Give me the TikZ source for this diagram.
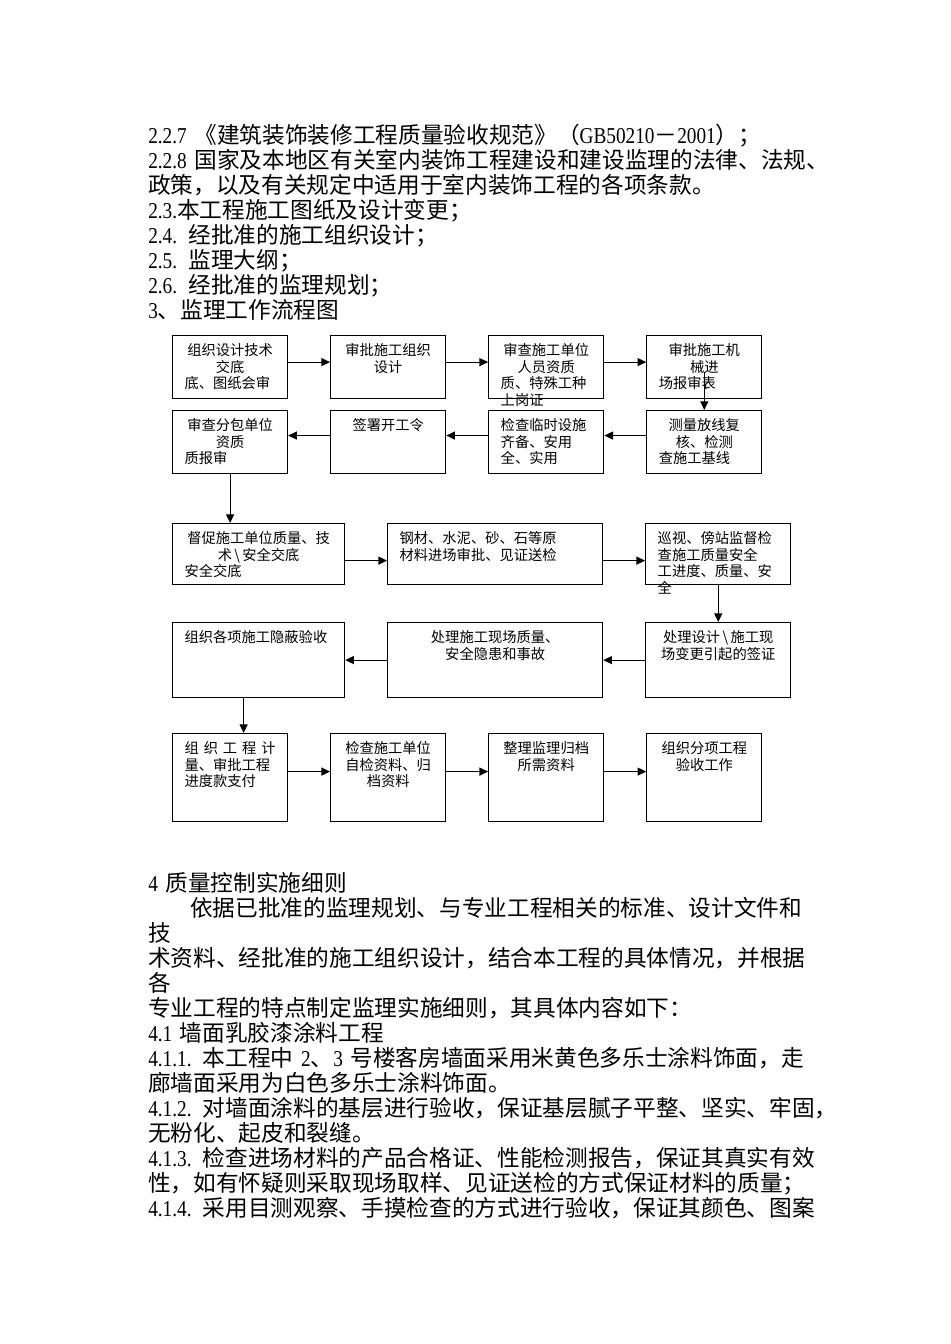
\documentclass[tikz,border=0pt]{standalone}
\usepackage{fontspec}
\setmainfont[FakeStretch=0.85]{Liberation Serif}
\newfontfamily\cjk{Noto Sans CJK SC}
\usepackage{tikz}
\usetikzlibrary{positioning,arrows.meta,calc}
\tikzstyle{box} = [rectangle, draw, line width=0.9pt, inner xsep=9pt, inner ysep=0pt, %
   text height=15pt, align=center, font=\fontsize{10.7pt}{12.4pt}\cjk]
\tikzstyle{boxS} = [box, text width=68.25pt]
\tikzstyle{boxI} = [box, text width=111pt]
\tikzstyle{boxJ} = [box, text width=143.25pt]
\tikzstyle{boxK} = [box, text width=90.75pt]
\tikzstyle{para} = [anchor=base west, inner sep=0pt, text width=600pt, align=left, %
   font=\fontsize{17pt}{18.75pt}\cjk]
\tikzstyle{line} = [draw, line width=0.9pt, -{Triangle[length=6.5pt,width=6pt]}]
\newcommand{\lat}[1]{{\rmfamily #1}}
\newcommand{\lft}[1]{#1\hfill\null}

\begin{document}
\begin{tikzpicture}[x=0.75pt, y=-0.75pt, node distance=31.4pt]
   \useasboundingbox (0,0) rectangle (950,1344);

% Text above the chart %%%%%%%%%%%%%%%%%%%%%%%%%%%%%%%%%%%%%%%%%%%%%%%%
   \node[para](head) at (148,143.6){%
      \lat{2.2.7 }《建筑装饰装修工程质量验收规范》（\lat{GB50210}－\lat{2001}）；\\
      \lat{2.2.8 }国家及本地区有关室内装饰工程建设和建设监理的法律、法规、\\
      政策，以及有关规定中适用于室内装饰工程的各项条款。\\
      \lat{2.3.}本工程施工图纸及设计变更；\\
      \lat{2.4. }经批准的施工组织设计；\\
      \lat{2.5. }监理大纲；\\
      \lat{2.6. }经批准的监理规划；\\
      \lat{3}、监理工作流程图};

% Row 1 %%%%%%%%%%%%%%%%%%%%%%%%%%%%%%%%%%%%%%%%%%%%%%%%%%%%%%%%%%%%%%%
   \node[boxS, text depth=32.25pt, anchor=north west](techbrief) at (172,335){%
      组织设计技术\\交底\\\lft{底、图纸会审}};
   \node[boxS, text depth=32.25pt, right=of techbrief](approveplan){%
      审批施工组织\\设计};
   \node[boxS, text depth=32.25pt, right=of approveplan](checkstaff){%
      审查施工单位\\人员资质\\\lft{质、特殊工种}\\\lft{上岗证}};
   \node[boxS, text depth=32.25pt, right=of checkstaff](approvemach){%
      审批施工机\\械进\\\lft{场报审表}};

% Row 2 %%%%%%%%%%%%%%%%%%%%%%%%%%%%%%%%%%%%%%%%%%%%%%%%%%%%%%%%%%%%%%%
   \node[boxS, text depth=32.25pt, below=8.1pt of techbrief](checksub){%
      审查分包单位\\资质\\\lft{质报审}};
   \node[boxS, text depth=32.25pt, below=8.1pt of approveplan](startorder){%
      签署开工令};
   \node[boxS, text depth=32.25pt, below=8.1pt of checkstaff, align=left](checkfacil){%
      检查临时设施\\齐备、安用\\全、实用};
   \node[boxS, text depth=32.25pt, below=8.1pt of approvemach](survey){%
      测量放线复\\核、检测\\\lft{查施工基线}};

% Row 3 %%%%%%%%%%%%%%%%%%%%%%%%%%%%%%%%%%%%%%%%%%%%%%%%%%%%%%%%%%%%%%%
   \node[boxI, text depth=30.75pt, below=36.6pt of checksub.south west, anchor=north west](urge){%
      督促施工单位质量、技\\术\,\textbackslash\,安全交底\\\lft{安全交底}};
   \node[boxJ, text depth=30.75pt, right=of urge, align=left](material){%
      钢材、水泥、砂、石等原\\材料进场审批、见证送检};
   \node[boxK, text depth=30.75pt, right=of material, align=left](patrol){%
      巡视、傍站监督检\\查施工质量安全\\工进度、质量、安\\全};

% Row 4 %%%%%%%%%%%%%%%%%%%%%%%%%%%%%%%%%%%%%%%%%%%%%%%%%%%%%%%%%%%%%%%
   \node[boxK, text depth=41.25pt, below=27.6pt of patrol](change){%
      处理设计\,\textbackslash\,施工现\\场变更引起的签证};
   \node[boxJ, text depth=41.25pt, left=of change](hazard){%
      处理施工现场质量、\\安全隐患和事故};
   \node[boxI, text depth=41.25pt, left=of hazard, align=left](concealed){%
      组织各项施工隐蔽验收};

% Row 5 %%%%%%%%%%%%%%%%%%%%%%%%%%%%%%%%%%%%%%%%%%%%%%%%%%%%%%%%%%%%%%%
   \node[boxS, text depth=51pt, below=26.1pt of concealed.south west, anchor=north west](measure){%
      组\hfill 织\hfill 工\hfill 程\hfill 计\\\lft{量、审批工程}\\\lft{进度款支付}};
   \node[boxS, text depth=51pt, right=of measure](selfcheck){%
      检查施工单位\\自检资料、归\\档资料};
   \node[boxS, text depth=51pt, right=of selfcheck](archive){%
      整理监理归档\\所需资料};
   \node[boxS, text depth=51pt, right=of archive](accept){%
      组织分项工程\\验收工作};

% Text below the chart %%%%%%%%%%%%%%%%%%%%%%%%%%%%%%%%%%%%%%%%%%%%%%%%
   \node[para](body) at (148,891.6){%
      \lat{4 }质量控制实施细则\\
      \hspace*{31.5pt}依据已批准的监理规划、与专业工程相关的标准、设计文件和\\
      技\\
      术资料、经批准的施工组织设计，结合本工程的具体情况，并根据\\
      各\\
      专业工程的特点制定监理实施细则，其具体内容如下：\\
      \lat{4.1 }墙面乳胶漆涂料工程\\
      \lat{4.1.1. }本工程中\lat{ 2}、\lat{3 }号楼客房墙面采用米黄色多乐士涂料饰面，走\\
      廊墙面采用为白色多乐士涂料饰面。\\
      \lat{4.1.2. }对墙面涂料的基层进行验收，保证基层腻子平整、坚实、牢固，\\
      无粉化、起皮和裂缝。\\
      \lat{4.1.3. }检查进场材料的产品合格证、性能检测报告，保证其真实有效\\
      性，如有怀疑则采取现场取样、见证送检的方式保证材料的质量；\\
      \lat{4.1.4. }采用目测观察、手摸检查的方式进行验收，保证其颜色、图案};

   % Draw edges
   % Row 1
   \path [line] ([yshift=3.75pt]techbrief.east) -- ([yshift=3.75pt]approveplan.west);
   \path [line] ([yshift=3.75pt]approveplan.east) -- ([yshift=3.75pt]checkstaff.west);
   \path [line] ([yshift=3.75pt]checkstaff.east) -- ([yshift=3.75pt]approvemach.west);
   \path [line] ([yshift=-4pt]approvemach.center) -- (survey.north);

   % Row 2
   \path [line] ([yshift=4.9pt]survey.west) -- ([yshift=4.9pt]checkfacil.east);
   \path [line] ([yshift=4.9pt]checkfacil.west) -- ([yshift=4.9pt]startorder.east);
   \path [line] ([yshift=4.9pt]startorder.west) -- ([yshift=4.9pt]checksub.east);
   \path [line] (checksub.south) -- (checksub.south |- urge.north);

   % Row 3
   \path [line] ([yshift=-4.9pt]urge.east) -- ([yshift=-4.9pt]material.west);
   \path [line] ([yshift=-4.9pt]material.east) -- ([yshift=-4.9pt]patrol.west);
   \path [line] (patrol.south) -- (change.north);

   % Row 4
   \path [line] (change.west) -- (hazard.east);
   \path [line] (hazard.west) -- (concealed.east);
   \coordinate (downturn) at ([xshift=-11.25pt]concealed.south);
   \path [line] (downturn) -- (downturn |- measure.north);

   % Row 5
   \path [line] ([yshift=4.5pt]measure.east) -- ([yshift=4.5pt]selfcheck.west);
   \path [line] ([yshift=4.5pt]selfcheck.east) -- ([yshift=4.5pt]archive.west);
   \path [line] ([yshift=4.5pt]archive.east) -- ([yshift=4.5pt]accept.west);

\end{tikzpicture}
\end{document}
